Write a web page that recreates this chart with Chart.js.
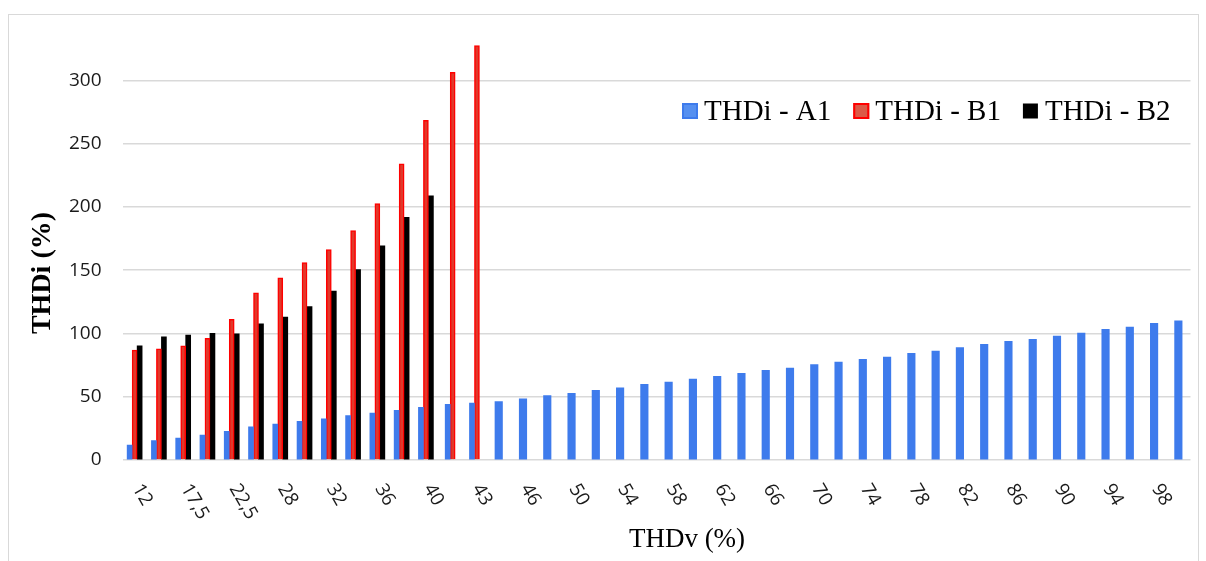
<!DOCTYPE html>
<html>
<head>
<meta charset="utf-8">
<script src="https://cdn.jsdelivr.net/npm/chart.js@4.4.1/dist/chart.umd.min.js"></script>
<style>
  html, body { margin: 0; padding: 0; background: #fff; }
  #wrap { position: relative; width: 1206px; height: 561px; }
</style>
</head>
<body>
<div id="wrap"><canvas id="chart" width="1206" height="561"></canvas></div>
<script>
// THDv steps (x categories); every other one carries a visible label
const thdvLabels = ['12','15','17,5','20','22,5','25','28','30','32','34','36','38','40','41,5','43','44,5',
  '46','48','50','52','54','56','58','60','62','64','66','68','70','72','74','76','78','80','82','84',
  '86','88','90','92','94','96','98','100'];

// THDi (%) per load
const thdiA1 = [11.8,15.3,17.4,19.7,22.6,26.3,28.4,30.5,32.6,35.0,37.1,39.2,41.6,44.0,45.0,46.1,
  48.4,50.8,52.6,55.0,57.1,59.7,61.6,63.9,66.1,68.4,70.8,72.6,75.3,77.4,79.5,81.3,84.2,86.1,88.9,
  91.3,93.7,95.3,97.9,100.3,103.2,105.0,107.9,110.0];
const thdiB1 = [86.8,87.9,90.2,96.1,111.1,132.1,143.9,156.0,166.3,181.3,202.6,233.9,268.4,306.3,327.4,
  null,null,null,null,null,null,null,null,null,null,null,null,null,null,null,null,null,null,null,null,
  null,null,null,null,null,null,null,null,null];
const thdiB2 = [90.2,97.4,98.7,100.0,99.7,107.6,112.9,121.3,133.4,150.5,169.2,191.8,208.7,
  null,null,null,null,null,null,null,null,null,null,null,null,null,null,null,null,null,null,null,null,
  null,null,null,null,null,null,null,null,null,null,null];

const seriesNames = ['THDi - A1', 'THDi - B1', 'THDi - B2'];
const yTicks = [0, 50, 100, 150, 200, 250, 300];

// A1 bars are slimmer where they share the slot with B1/B2, wider where they stand alone
const a1Shared = thdiA1.map((v, i) => thdiB1[i] != null ? v : null);
const a1Alone  = thdiA1.map((v, i) => thdiB1[i] == null ? v : null);

const BLUE = '#3e7bec';
const RED = '#ff0000';
const RED_FILL = '#e0392b';

const tickFont = '19px "Open Sans"';
const serif = '"Liberation Serif", "Times New Roman", serif';

const decor = {
  id: 'decor',
  beforeDraw(chart) {
    const ctx = chart.ctx;
    ctx.save();
    ctx.fillStyle = '#fff';
    ctx.fillRect(0, 0, chart.width, chart.height);
    ctx.strokeStyle = '#d9d9d9';
    ctx.lineWidth = 1;
    ctx.strokeRect(8.5, 14.5, 1190, 600);
    ctx.restore();
  },
  afterDraw(chart) {
    const ctx = chart.ctx;
    const xs = chart.scales.x;
    ctx.save();

    // rotated category labels
    ctx.fillStyle = '#1a1a1a';
    ctx.font = tickFont;
    ctx.textAlign = 'left';
    ctx.textBaseline = 'middle';
    thdvLabels.forEach((lab, i) => {
      if (i % 2) return;
      const x = xs.getPixelForValue(i);
      ctx.save();
      ctx.translate(x + 2, 485.5);
      ctx.rotate(Math.PI / 3);
      ctx.fillText(lab, 0, 0);
      ctx.restore();
    });

    // axis titles
    ctx.fillStyle = '#000';
    ctx.font = '27px ' + serif;
    ctx.textAlign = 'center';
    ctx.textBaseline = 'alphabetic';
    ctx.fillText('THDv (%)', 687, 547);

    ctx.save();
    ctx.translate(50, 273);
    ctx.rotate(-Math.PI / 2);
    ctx.font = 'bold 28px ' + serif;
    ctx.fillText('THDi (%)', 0, 0);
    ctx.restore();

    // legend
    const swatches = [
      { fill: '#5690f0', stroke: BLUE, size: 16 },
      { fill: '#dc5a47', stroke: RED, size: 16 },
      { fill: '#000', stroke: null, size: 15 }
    ];
    ctx.font = '29px ' + serif;
    ctx.textAlign = 'left';
    let lx = 682;
    const base = 120;
    seriesNames.forEach((name, k) => {
      const s = swatches[k];
      const top = 111 - s.size / 2;
      ctx.fillStyle = s.fill;
      ctx.fillRect(lx, top, s.size, s.size);
      if (s.stroke) {
        ctx.strokeStyle = s.stroke;
        ctx.lineWidth = 2;
        ctx.strokeRect(lx + 1, top + 1, s.size - 2, s.size - 2);
      }
      ctx.fillStyle = '#000';
      ctx.fillText(name, lx + 22, base);
      lx += 22 + ctx.measureText(name).width + 22;
    });
    ctx.restore();
  }
};

new Chart(document.getElementById('chart'), {
  type: 'bar',
  data: {
    labels: thdvLabels,
    datasets: [
      { label: seriesNames[0], data: a1Shared, backgroundColor: BLUE, borderWidth: 0,
        barThickness: 5, skipNull: true },
      { label: seriesNames[1], data: thdiB1, backgroundColor: RED_FILL, borderColor: RED,
        borderWidth: 1.5, barThickness: 5, skipNull: true },
      { label: seriesNames[2], data: thdiB2, backgroundColor: '#000', borderWidth: 0,
        barThickness: 5, skipNull: true },
      { label: seriesNames[0], data: a1Alone, backgroundColor: BLUE, borderWidth: 0,
        barThickness: 7.5, skipNull: true }
    ]
  },
  options: {
    responsive: false,
    animation: false,
    events: [],
    layout: { padding: { top: 17, right: 15.5, bottom: 101, left: 0 } },
    plugins: { legend: { display: false }, tooltip: { enabled: false } },
    scales: {
      x: {
        grid: { display: false },
        border: { display: false },
        ticks: { display: false },
        afterFit(s) { s.paddingLeft = 0; s.paddingRight = 0; s.height = 0; }
      },
      y: {
        min: 0,
        max: 350,
        afterBuildTicks(s) { s.ticks = yTicks.map(v => ({ value: v })); },
        afterFit(s) { s.width = 122.5; s.paddingTop = 0; s.paddingBottom = 0; },
        ticks: { padding: 21, color: '#1a1a1a', font: { family: 'Open Sans', size: 19 } },
        grid: { color: '#d9d9d9', lineWidth: 1.5, drawTicks: false },
        border: { display: false }
      }
    }
  },
  plugins: [decor]
});
</script>
</body>
</html>
